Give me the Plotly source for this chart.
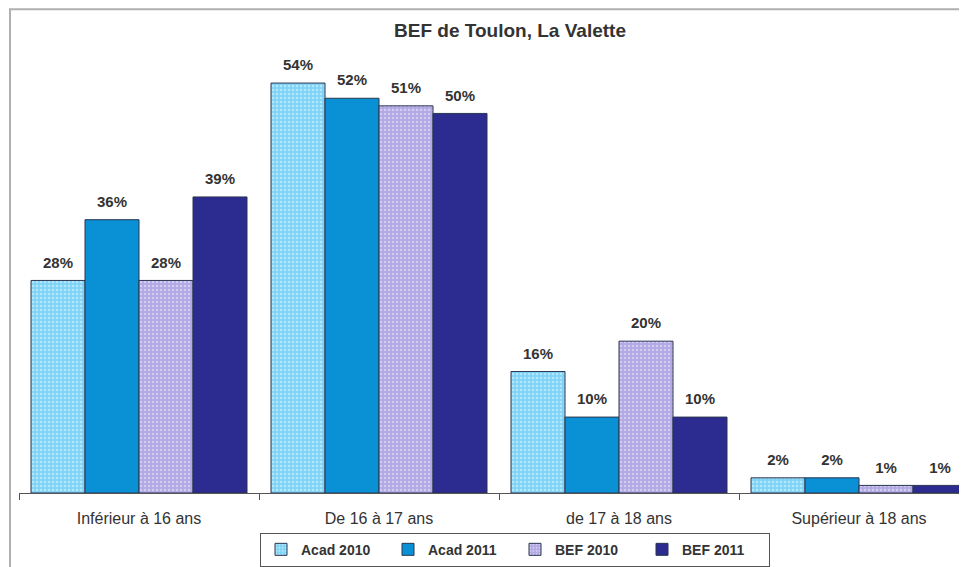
import plotly.graph_objects as go

categories = ["Inférieur à 16 ans", "De 16 à 17 ans", "de 17 à 18 ans", "Supérieur à 18 ans"]
series_names = ["Acad 2010", "Acad 2011", "BEF 2010", "BEF 2011"]
acad_2010 = [28, 54, 16, 2]
acad_2011 = [36, 52, 10, 2]
bef_2010 = [28, 51, 20, 1]
bef_2011 = [39, 50, 10, 1]
values = [acad_2010, acad_2011, bef_2010, bef_2011]

colors = ["#7fd4f6", "#0a90d4", "#b2a8e4", "#2c2b90"]
patterned = [True, False, True, False]

fig = go.Figure()
for i, (name, vals, col, pat) in enumerate(zip(series_names, values, colors, patterned)):
    marker = dict(color=col, line=dict(color="#2a3550", width=1))
    if pat:
        marker["pattern"] = dict(shape=".", fgcolor="rgba(255,255,255,0.85)", size=4, solidity=0.3)
    fig.add_trace(go.Bar(x=categories, y=vals, name=name, marker=marker,
                         offsetgroup=str(i), hoverinfo="skip"))
for i, vals in enumerate(values):
    fig.add_trace(go.Scatter(
        x=categories, y=vals, mode="markers+text", offsetgroup=str(i),
        marker=dict(size=13, opacity=0), showlegend=False, hoverinfo="skip",
        text=[f"{v}%" for v in vals], textposition="top center",
        textfont=dict(family="Liberation Sans", size=15, color="#333333", weight="bold"),
        cliponaxis=False,
    ))

W, H = 959, 559
L, R, T, B = 11, 0, 28, 71
PW, PH = W - L - R, H - T - B
fig.update_layout(
    width=W, height=H,
    margin=dict(l=L, r=R, t=T, b=B),
    paper_bgcolor="white", plot_bgcolor="white",
    barmode="group", bargap=0.1, bargroupgap=0,
    scattermode="group", scattergap=0.1,
    title=dict(text="<b>BEF de Toulon, La Valette</b>", x=502 / W, xanchor="center",
               y=1 - 22 / H, yanchor="middle",
               font=dict(family="Liberation Sans", size=19, color="#333333")),
    font=dict(family="Liberation Sans", color="#333333"),
    showlegend=True,
    legend=dict(orientation="h", x=(252 - L) / PW, xanchor="left",
                y=(488 - 528) / PH, yanchor="top",
                bordercolor="#555555", borderwidth=1, bgcolor="white",
                font=dict(family="Liberation Sans", size=14, color="#333333", weight="bold"),
                entrywidth=82, itemwidth=30, traceorder="normal"),
    xaxis=dict(range=[-0.5, 3.45], showline=True, linecolor="#555555", linewidth=1,
               ticks="outside", tickson="boundaries", ticklen=6, tickcolor="#555555",
               tickfont=dict(family="Liberation Sans", size=16, color="#333333"),
               ticklabelstandoff=11, showgrid=False),
    yaxis=dict(range=[0, 60.2], visible=False, showgrid=False),
    shapes=[dict(type="rect", xref="paper", yref="paper",
                 x0=(2 - L) / PW, x1=1.05, y0=-0.3, y1=(488 - 1) / PH,
                 line=dict(color="#b0b0b0", width=2), layer="below")],
)

fig.write_html("out.html")
